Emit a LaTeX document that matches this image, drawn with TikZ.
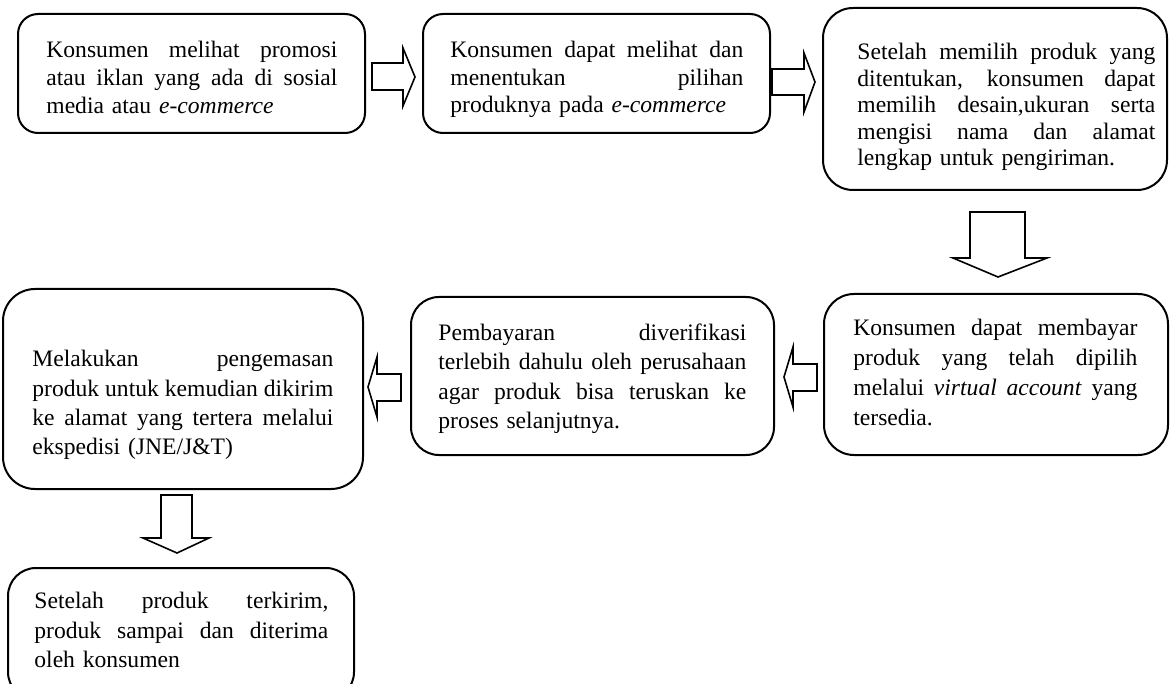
\documentclass[tikz,border=0pt]{standalone}
\usepackage{fontspec}
\setmainfont{Liberation Serif}
\usetikzlibrary{fit}
\newcommand\JLine[1]{\hbox to \hsize{\spaceskip=0.25em plus 10em\relax #1}}
\tikzset{
  box/.style={draw=black, line width=1pt, rounded corners=#1, inner sep=0pt},
  box/.default=10pt,
  txt/.style={inner sep=0pt, anchor=north west, align=left, text=black},
  blockarrow/.style={draw=black, fill=white, line width=0.8pt, line join=miter}
}
\begin{document}
\begin{tikzpicture}[x=0.5pt, y=-0.5pt]
\useasboundingbox (0,0) rectangle (1173,684);
\fill[white] (0,0) rectangle (1173,684);

% boxes
\node[box=10pt, fit={(18,14) (365,133)}] (b1) {};
\node[box=10pt, fit={(423,14) (770,133)}] (b2) {};
\node[box=15pt, fit={(823,8) (1167,190)}] (b3) {};
\node[box=15pt, fit={(824,294) (1168,455)}] (b4) {};
\node[box=14pt, fit={(411,297) (774,455)}] (b5) {};
\node[box=16pt, fit={(3,289) (363,489)}] (b6) {};
\node[box=14pt, fit={(8,568) (354,700)}] (b7) {};

% texts
\node[txt, text width=145.5pt, font=\fontsize{11.8}{14}\selectfont] (t1) at (46,41) {%
\JLine{Konsumen melihat promosi}
\JLine{atau iklan yang ada di sosial}
\noindent media atau \textit{e-commerce}};

\node[txt, text width=146.5pt, font=\fontsize{11.8}{13.75}\selectfont] (t2) at (450,41) {%
\JLine{Konsumen dapat melihat dan}
\JLine{menentukan pilihan}
\noindent produknya pada \textit{e-commerce}};

\node[txt, text width=149pt, font=\fontsize{11.8}{13.25}\selectfont] (t3) at (857,43) {%
\JLine{Setelah memilih produk yang}
\JLine{ditentukan, konsumen dapat}
\JLine{memilih desain,ukuran serta}
\JLine{mengisi nama dan alamat}
\noindent lengkap untuk pengiriman.};

\node[txt, text width=142pt, font=\fontsize{11.8}{15}\selectfont] (t4) at (853,319) {%
\JLine{Konsumen dapat membayar}
\JLine{produk yang telah dipilih}
\JLine{melalui \textit{virtual account} yang}
\noindent tersedia.};

\node[txt, text width=154pt, font=\fontsize{11.8}{14.75}\selectfont] (t5) at (438,323) {%
\JLine{Pembayaran diverifikasi}
\JLine{terlebih dahulu oleh perusahaan}
\JLine{agar produk bisa teruskan ke}
\noindent proses selanjutnya.};

\node[txt, text width=150.5pt, font=\fontsize{11.8}{14.65}\selectfont] (t6) at (32,350) {%
\JLine{Melakukan pengemasan}
\JLine{produk untuk kemudian dikirim}
\JLine{ke alamat yang tertera melalui}
\noindent ekspedisi (JNE/J\&T)};

\node[txt, text width=147pt, font=\fontsize{11.8}{14.75}\selectfont] (t7) at (34,592) {%
\JLine{Setelah produk terkirim,}
\JLine{produk sampai dan diterima}
\noindent oleh konsumen};

% block arrows
% b1 -> b2
\draw[blockarrow] (372,63) -- (403,63) -- (403,48) -- (415,77) -- (403,106) -- (403,90) -- (372,90) -- cycle;
% b2 -> b3
\draw[blockarrow] (772,69) -- (804,69) -- (804,53) -- (815,82) -- (804,112) -- (804,95) -- (772,95) -- cycle;
% b3 -> b4
\draw[blockarrow] (970,212) -- (1025,212) -- (1025,258) -- (1047,258) -- (998,277) -- (953,258) -- (970,258) -- cycle;
% b4 -> b5
\draw[blockarrow] (817,364) -- (793,364) -- (793,347) -- (784,377) -- (793,407) -- (793,391) -- (817,391) -- cycle;
% b5 -> b6
\draw[blockarrow] (401,374) -- (377,374) -- (377,357) -- (368,387) -- (377,417) -- (377,401) -- (401,401) -- cycle;
% b6 -> b7
\draw[blockarrow] (161,495) -- (192,495) -- (192,538) -- (209,538) -- (177,553) -- (143,538) -- (161,538) -- cycle;
\end{tikzpicture}
\end{document}
